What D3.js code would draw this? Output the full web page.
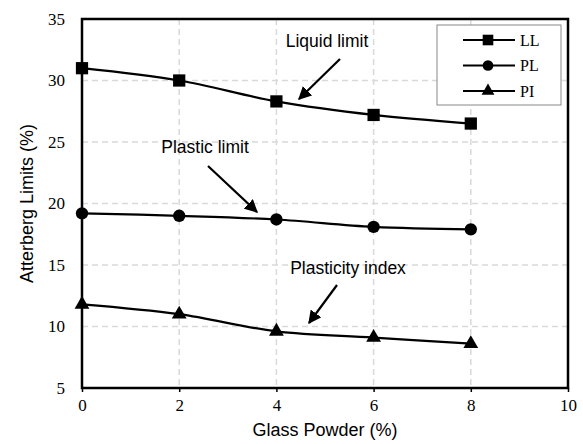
<!DOCTYPE html>
<html>
<head>
<meta charset="utf-8">
<script src="https://cdn.jsdelivr.net/npm/d3@7"></script>
<style>
  body { margin: 0; background: #fff; }
  .tick text { font-family: "Liberation Serif", "Times New Roman", serif; font-size: 17px; fill: #000; }
</style>
</head>
<body>
<div id="graph"></div>
<script>
// The data...
var glassPowder = [0, 2, 4, 6, 8];
var liquidLimit = [31.0, 30.0, 28.3, 27.2, 26.5];
var plasticLimit = [19.2, 19.0, 18.7, 18.1, 17.9];
var plasticityIndex = [11.8, 11.0, 9.6, 9.1, 8.6];
var seriesNames = ['LL', 'PL', 'PI'];
var xTicks = [0, 2, 4, 6, 8, 10];
var yTicks = [5, 10, 15, 20, 25, 30, 35];

var margin = { top: 19, right: 15, bottom: 56, left: 82 };
var width  = 583 - margin.left - margin.right;
var height = 444 - margin.top - margin.bottom;

var svg = d3.select('#graph').append('svg')
            .attr('width', 583)
            .attr('height', 444)
            .append('g')
            .attr('transform', 'translate(' + margin.left + ',' + margin.top + ')');

var xScale = d3.scaleLinear().domain([0, 10]).range([0, width]);
var yScale = d3.scaleLinear().domain([5, 35]).range([height, 0]);

// grid lines
svg.selectAll('.vgrid')
   .data(xTicks.slice(1, -1))
   .enter().append('line')
   .attr('x1', function(d) { return xScale(d); })
   .attr('x2', function(d) { return xScale(d); })
   .attr('y1', 0).attr('y2', height)
   .attr('stroke', '#d9d9d9').attr('stroke-width', 1.5)
   .attr('stroke-dasharray', '6,4');

svg.selectAll('.hgrid')
   .data(yTicks.slice(1, -1))
   .enter().append('line')
   .attr('y1', function(d) { return yScale(d); })
   .attr('y2', function(d) { return yScale(d); })
   .attr('x1', 0).attr('x2', width)
   .attr('stroke', '#d9d9d9').attr('stroke-width', 1.5)
   .attr('stroke-dasharray', '6,4');

// axes
var xAxis = d3.axisBottom(xScale).tickValues(xTicks).tickSize(4).tickPadding(7);
var yAxis = d3.axisLeft(yScale).tickValues(yTicks).tickSize(0).tickPadding(17);

svg.append('g').attr('transform', 'translate(0,' + height + ')').call(xAxis)
   .call(function(g) { g.select('.domain').remove(); g.selectAll('line').attr('stroke-width', 1.5); });
svg.append('g').call(yAxis)
   .call(function(g) { g.select('.domain').remove(); });

// plot frame
svg.append('rect')
   .attr('x', 0).attr('y', 0).attr('width', width).attr('height', height)
   .attr('fill', 'none').attr('stroke', '#000').attr('stroke-width', 2.5);

// series
var line = d3.line()
             .x(function(d, i) { return xScale(glassPowder[i]); })
             .y(function(d) { return yScale(d); })
             .curve(d3.curveCatmullRom);

var allSeries = [liquidLimit, plasticLimit, plasticityIndex];
var symbols = [d3.symbolSquare, d3.symbolCircle, d3.symbolTriangle];
var symSizes = [150, 120, 95];

allSeries.forEach(function(vals, s) {
    svg.append('path')
       .attr('d', line(vals))
       .attr('fill', 'none').attr('stroke', '#000').attr('stroke-width', 2.2);

    svg.selectAll('.pt' + s)
       .data(vals)
       .enter().append('path')
       .attr('d', d3.symbol().type(symbols[s]).size(symSizes[s]))
       .attr('transform', function(d, i) {
           return 'translate(' + xScale(glassPowder[i]) + ',' + yScale(d) + ')';
       })
       .attr('fill', '#000');
});

// legend
var legend = svg.append('g').attr('transform', 'translate(' + (437 - margin.left) + ',' + (25 - margin.top) + ')');
legend.append('rect')
      .attr('width', 124).attr('height', 80)
      .attr('fill', '#fff').attr('stroke', '#888').attr('stroke-width', 1);

seriesNames.forEach(function(name, i) {
    var ly = 15 + i * 25.5;
    legend.append('line')
          .attr('x1', 26).attr('x2', 78).attr('y1', ly).attr('y2', ly)
          .attr('stroke', '#000').attr('stroke-width', 2.2);
    legend.append('path')
          .attr('d', d3.symbol().type(symbols[i]).size(symSizes[i] * 0.75))
          .attr('transform', 'translate(51,' + ly + ')')
          .attr('fill', '#000');
    legend.append('text')
          .attr('x', 83).attr('y', ly + 5.5)
          .text(name)
          .attr('font-family', '"Liberation Serif", "Times New Roman", serif')
          .attr('font-size', '16px');
});

// annotations
var defs = svg.append('defs');
defs.append('marker')
    .attr('id', 'arrow')
    .attr('viewBox', '0 0 10 10')
    .attr('refX', 9).attr('refY', 5)
    .attr('markerWidth', 6).attr('markerHeight', 6)
    .attr('markerUnits', 'strokeWidth')
    .attr('orient', 'auto')
    .append('path').attr('d', 'M0,0 L10,5 L0,10 z').attr('fill', '#000');

var notes = [
    { text: 'Liquid limit',     tx: 327, ty: 47,  x1: 340, y1: 59,  x2: 299, y2: 99 },
    { text: 'Plastic limit',    tx: 205, ty: 153, x1: 208, y1: 166, x2: 257, y2: 212 },
    { text: 'Plasticity index', tx: 348, ty: 274, x1: 337, y1: 285, x2: 309, y2: 323 }
];

notes.forEach(function(n) {
    svg.append('text')
       .attr('x', n.tx - margin.left).attr('y', n.ty - margin.top)
       .attr('text-anchor', 'middle')
       .attr('font-family', '"Liberation Sans", Arial, sans-serif')
       .attr('font-size', '17.5px')
       .text(n.text);
    svg.append('line')
       .attr('x1', n.x1 - margin.left).attr('y1', n.y1 - margin.top)
       .attr('x2', n.x2 - margin.left).attr('y2', n.y2 - margin.top)
       .attr('stroke', '#000').attr('stroke-width', 2.2)
       .attr('marker-end', 'url(#arrow)');
});

// axis titles
svg.append('text')
   .attr('x', width / 2).attr('y', height + 48)
   .attr('text-anchor', 'middle')
   .attr('font-family', '"Liberation Sans", Arial, sans-serif')
   .attr('font-size', '18px')
   .text('Glass Powder (%)');

svg.append('text')
   .attr('transform', 'translate(' + (33 - margin.left) + ',' + (height / 2) + ') rotate(-90)')
   .attr('text-anchor', 'middle')
   .attr('font-family', '"Liberation Sans", Arial, sans-serif')
   .attr('font-size', '18px')
   .text('Atterberg Limits (%)');
</script>
</body>
</html>
